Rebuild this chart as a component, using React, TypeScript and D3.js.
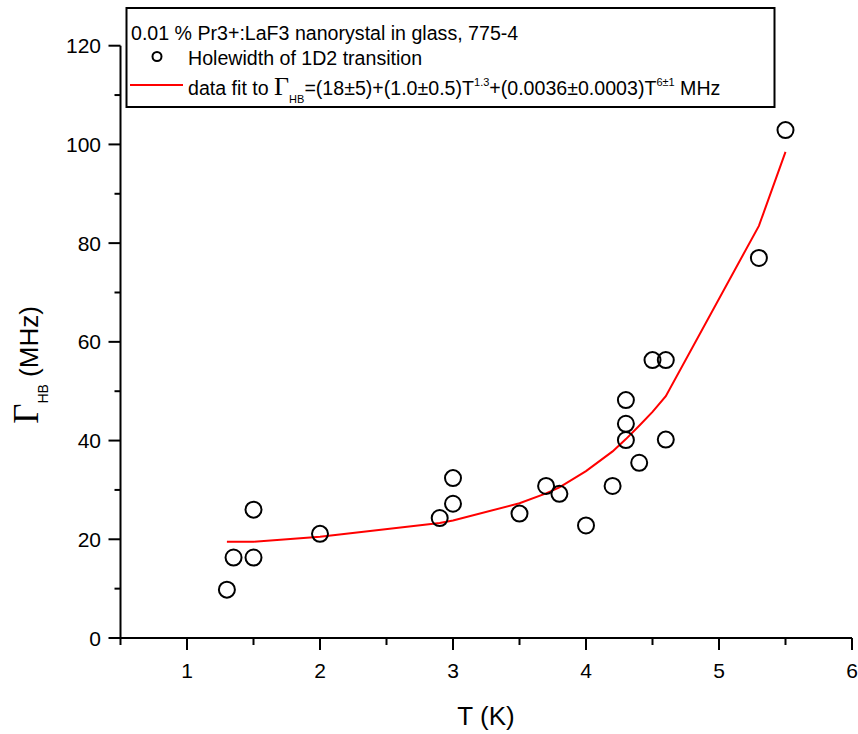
import React from "react";
import * as d3 from "d3";

const tData = [1.3, 1.35, 1.5, 1.5, 2.0, 2.9, 3.0, 3.0, 3.5, 3.7, 3.8, 4.0, 4.2, 4.3, 4.3, 4.3, 4.4, 4.5, 4.6, 4.6, 5.3, 5.5];
const gData = [9.8, 16.3, 16.3, 26.0, 21.1, 24.3, 27.2, 32.4, 25.2, 30.8, 29.2, 22.8, 30.8, 40.1, 43.4, 48.2, 35.5, 56.3, 56.3, 40.2, 77.0, 102.9];

const fitT = [1.3, 1.35, 1.5, 2.0, 2.9, 3.0, 3.5, 3.7, 3.8, 4.0, 4.2, 4.3, 4.4, 4.5, 4.6, 5.3, 5.5];
const fitG = [19.5, 19.5, 19.5, 20.5, 23.3, 23.8, 27.3, 29.3, 30.5, 33.8, 37.8, 40.3, 43.0, 45.8, 49.0, 83.5, 98.5];

const xTicks = [1, 2, 3, 4, 5, 6];
const xMinor = [0.5, 1.5, 2.5, 3.5, 4.5, 5.5];
const yTicks = [0, 20, 40, 60, 80, 100, 120];
const yMinor = [10, 30, 50, 70, 90, 110];

const FONT = "Arial, 'Liberation Sans', sans-serif";
const SERIF = "'Times New Roman', 'Liberation Serif', serif";

export default function App() {
  const W = 858, H = 734;
  const x = d3.scaleLinear().domain([0.5, 6]).range([120.5, 852]);
  const y = d3.scaleLinear().domain([0, 120]).range([638, 45.7]);
  const line = d3.line<number>().x((_, i) => x(fitT[i])).y((d) => y(d));

  return (
    <svg width={W} height={H} style={{ position: "absolute", left: 0, top: 0, background: "#fff" }}>
      <rect x={0} y={0} width={W} height={H} fill="#fff" />
      {/* axes */}
      <line x1={x(0.5)} x2={x(6)} y1={y(0)} y2={y(0)} stroke="#000" strokeWidth={2} />
      <line x1={x(0.5)} x2={x(0.5)} y1={y(0)} y2={y(120)} stroke="#000" strokeWidth={2} />
      {xTicks.map((t) => (
        <g key={"xt" + t}>
          <line x1={x(t)} x2={x(t)} y1={y(0)} y2={y(0) + 12} stroke="#000" strokeWidth={2} />
          <text x={x(t)} y={678} textAnchor="middle" fontFamily={FONT} fontSize={21}>{t}</text>
        </g>
      ))}
      {xMinor.map((t) => (
        <line key={"xm" + t} x1={x(t)} x2={x(t)} y1={y(0)} y2={y(0) + 7} stroke="#000" strokeWidth={2} />
      ))}
      {yTicks.map((t) => (
        <g key={"yt" + t}>
          <line x1={x(0.5) - 12} x2={x(0.5)} y1={y(t)} y2={y(t)} stroke="#000" strokeWidth={2} />
          <text x={101} y={y(t) + 7.5} textAnchor="end" fontFamily={FONT} fontSize={21}>{t}</text>
        </g>
      ))}
      {yMinor.map((t) => (
        <line key={"ym" + t} x1={x(0.5) - 6} x2={x(0.5)} y1={y(t)} y2={y(t)} stroke="#000" strokeWidth={2} />
      ))}
      {/* axis titles */}
      <text x={486} y={725} textAnchor="middle" fontFamily={FONT} fontSize={26}>T (K)</text>
      <g transform="translate(38,365) rotate(-90)">
        <text textAnchor="middle" fontFamily={FONT} fontSize={26}>
          <tspan fontFamily={SERIF} fontSize={35}>Γ</tspan>
          <tspan fontSize={14} dy={10}>HB</tspan>
          <tspan dy={-10}> (MHz)</tspan>
        </text>
      </g>
      {/* fit line */}
      <path d={line(fitG) || ""} fill="none" stroke="#ff0000" strokeWidth={2} />
      {/* data points */}
      {tData.map((t, i) => (
        <circle key={"p" + i} cx={x(t)} cy={y(gData[i])} r={8} fill="none" stroke="#000" strokeWidth={2} />
      ))}
      {/* legend */}
      <rect x={126.5} y={8} width={648} height={99} fill="#fff" stroke="#000" strokeWidth={2} />
      <text x={131} y={40} fontFamily={FONT} fontSize={19.6}>0.01 % Pr3+:LaF3 nanorystal in glass, 775-4</text>
      <circle cx={157} cy={56.5} r={4.5} fill="none" stroke="#000" strokeWidth={2} />
      <text x={188} y={65} fontFamily={FONT} fontSize={19.6}>Holewidth of 1D2 transition</text>
      <line x1={130} x2={183} y1={85} y2={85} stroke="#ff0000" strokeWidth={2} />
      <text x={188} y={95} fontFamily={FONT} fontSize={19.6}>
        <tspan>data fit to </tspan>
        <tspan fontFamily={SERIF} fontSize={26}>Γ</tspan>
        <tspan fontSize={11} dy={8}>HB</tspan>
        <tspan dy={-8}>=(18±5)+(1.0±0.5)T</tspan>
        <tspan fontSize={11} dy={-9}>1.3</tspan>
        <tspan dy={9}>+(0.0036±0.0003)T</tspan>
        <tspan fontSize={11} dy={-9}>6±1</tspan>
        <tspan dy={9}> MHz</tspan>
      </text>
    </svg>
  );
}
